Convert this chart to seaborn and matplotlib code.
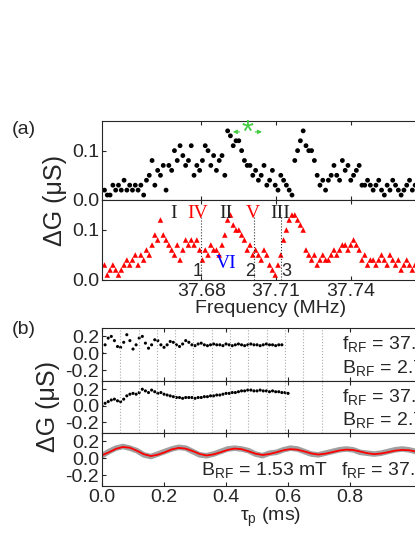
import numpy as np
import matplotlib
matplotlib.use("Agg")
import matplotlib.pyplot as plt
import seaborn as sns

# ---- panel (a): conductance spectra ----
freq_top = np.linspace(37.641, 37.775, 120)
dg_top = [
    0.02, 0.01, 0.01, 0.03, 0.02, 0.03, 0.02, 0.04, 0.02, 0.03,
    0.02, 0.03, 0.02, 0.03, 0.01, 0.04, 0.05, 0.08, 0.03, 0.06,
    0.05, 0.07, 0.02, 0.07, 0.06, 0.10, 0.08, 0.11, 0.09, 0.07,
    0.08, 0.11, 0.05, 0.07, 0.06, 0.08, 0.11, 0.10, 0.07, 0.09,
    0.06, 0.08, 0.09, 0.05, 0.14, 0.13, 0.11, 0.12, 0.12, 0.10,
    0.08, 0.07, 0.07, 0.05, 0.06, 0.04, 0.05, 0.07, 0.03, 0.04,
    0.06, 0.03, 0.02, 0.05, 0.04, 0.03, 0.02, 0.01, 0.08, 0.10,
    0.12, 0.14, 0.11, 0.10, 0.10, 0.08, 0.05, 0.03, 0.04, 0.02,
    0.04, 0.05, 0.07, 0.05, 0.04, 0.08, 0.06, 0.07, 0.04, 0.05,
    0.06, 0.07, 0.03, 0.03, 0.04, 0.03, 0.02, 0.03, 0.04, 0.02,
    0.01, 0.03, 0.02, 0.04, 0.03, 0.02, 0.01, 0.02, 0.03, 0.04,
    0.02, 0.03, 0.04, 0.01, 0.02, 0.03, 0.04, 0.02, 0.03, 0.04,
]
freq_bot = np.linspace(37.641, 37.775, 120)
dg_bot = [
    0.03, 0.01, 0.02, 0.03, 0.02, 0.01, 0.02, 0.03, 0.04, 0.03,
    0.04, 0.05, 0.03, 0.05, 0.04, 0.06, 0.05, 0.07, 0.09, 0.08,
    0.12, 0.09, 0.08, 0.07, 0.06, 0.05, 0.07, 0.04, 0.06, 0.08,
    0.07, 0.08, 0.07, 0.08, 0.06, 0.04, 0.06, 0.05, 0.07, 0.06,
    0.06, 0.05, 0.07, 0.09, 0.12, 0.13, 0.11, 0.10, 0.10, 0.09,
    0.08, 0.06, 0.07, 0.05, 0.06, 0.05, 0.04, 0.06, 0.05, 0.03,
    0.02, 0.01, 0.03, 0.05, 0.08, 0.10, 0.12, 0.13, 0.13, 0.12,
    0.11, 0.10, 0.06, 0.05, 0.04, 0.05, 0.03, 0.04, 0.05, 0.04,
    0.04, 0.05, 0.06, 0.05, 0.06, 0.07, 0.07, 0.06, 0.07, 0.08,
    0.07, 0.06, 0.04, 0.05, 0.03, 0.04, 0.04, 0.03, 0.04, 0.05,
    0.04, 0.03, 0.05, 0.04, 0.03, 0.04, 0.02, 0.03, 0.04, 0.03,
    0.02, 0.03, 0.04, 0.02, 0.03, 0.02, 0.01, 0.02, 0.03, 0.02,
]
roman_labels = ["I", "IV", "II", "V", "III", "VI"]
roman_x = [37.669, 37.6786, 37.690, 37.7008, 37.7116, 37.690]
roman_y = [0.133, 0.133, 0.133, 0.133, 0.133, 0.034]
roman_colors = ["#222222", "red", "#222222", "red", "#222222", "blue"]
line_labels = ["1", "2", "3"]
line_x = [37.680, 37.701, 37.712]

# ---- panel (b): time traces ----
tau_1 = np.arange(59) * 0.01
dg_1 = [
    0.0, 0.10, 0.18, 0.20, 0.15, 0.08, 0.07, 0.13, 0.22, 0.15,
    0.05, 0.10, 0.18, 0.20, 0.12, 0.06, 0.10, 0.16, 0.15, 0.10,
    0.07, 0.10, 0.14, 0.13, 0.10, 0.08, 0.11, 0.15, 0.13, 0.10,
    0.09, 0.11, 0.12, 0.10, 0.09, 0.10, 0.11, 0.10, 0.10, 0.09,
    0.11, 0.10, 0.09, 0.10, 0.11, 0.10, 0.09, 0.10, 0.11, 0.10,
    0.10, 0.09, 0.10, 0.11, 0.10, 0.10, 0.09, 0.10, 0.10,
]
tau_2 = np.arange(61) * 0.01
dg_2 = [
    0.0, 0.03, 0.05, 0.07, 0.08, 0.06, 0.05, 0.08, 0.12, 0.14,
    0.15, 0.14, 0.16, 0.20, 0.18, 0.16, 0.19, 0.17, 0.15, 0.16,
    0.14, 0.13, 0.12, 0.11, 0.10, 0.10, 0.09, 0.10, 0.10, 0.10,
    0.09, 0.10, 0.10, 0.11, 0.11, 0.12, 0.12, 0.13, 0.13, 0.14,
    0.15, 0.15, 0.16, 0.16, 0.17, 0.18, 0.18, 0.19, 0.19, 0.18,
    0.18, 0.19, 0.18, 0.18, 0.17, 0.18, 0.17, 0.17, 0.16, 0.16, 0.15,
]
tau_3 = np.arange(50) * 0.0225
fit_3 = [
    0.035, 0.071, 0.112, 0.134, 0.125, 0.089, 0.048, 0.026,
    0.042, 0.071, 0.105, 0.123, 0.114, 0.085, 0.051, 0.033,
    0.046, 0.071, 0.099, 0.115, 0.108, 0.083, 0.054, 0.039,
    0.050, 0.071, 0.095, 0.108, 0.102, 0.081, 0.057, 0.044,
    0.054, 0.072, 0.092, 0.102, 0.098, 0.080, 0.060, 0.049,
    0.056, 0.072, 0.090, 0.099, 0.095, 0.080, 0.062, 0.052,
    0.057, 0.072,
]
dg_3 = [
    0.030, 0.080, 0.120, 0.140, 0.120, 0.090, 0.040, 0.020,
    0.050, 0.080, 0.110, 0.130, 0.120, 0.080, 0.040, 0.030,
    0.050, 0.080, 0.110, 0.120, 0.110, 0.090, 0.050, 0.030,
    0.060, 0.070, 0.100, 0.120, 0.110, 0.080, 0.050, 0.040,
    0.060, 0.080, 0.100, 0.110, 0.100, 0.070, 0.060, 0.050,
    0.060, 0.080, 0.100, 0.110, 0.100, 0.080, 0.060, 0.050,
    0.060, 0.080,
]
grid_tau = [0.059 * k for k in range(1, 13)]

sns.set_style("ticks")
plt.rcParams["font.family"] = ["Liberation Sans", "DejaVu Sans"]
plt.rcParams["xtick.direction"] = "in"
plt.rcParams["ytick.direction"] = "in"
plt.rcParams["mathtext.fontset"] = "custom"
plt.rcParams["mathtext.rm"] = "Liberation Sans"

fig = plt.figure(figsize=(4.15, 5.37), dpi=100)
W, H = 415.0, 537.0


def add_ax(x0, y0, x1, y1):
    return fig.add_axes([x0 / W, 1 - y1 / H, (x1 - x0) / W, (y1 - y0) / H])


fs = 14
ax_a1 = add_ax(102, 121, 440, 200)
ax_a2 = add_ax(102, 200, 440, 280)
for ax in (ax_a1, ax_a2):
    ax.set_xlim(37.64, 37.776)
    ax.set_ylim(0, 0.16)
    ax.set_yticks([0.0, 0.1])
    ax.set_yticklabels(["0.0", "0.1"], fontsize=fs)
    ax.set_xticks([37.68, 37.71, 37.74])
    ax.tick_params(top=True, right=True, length=3, pad=2)
sns.scatterplot(x=freq_top, y=dg_top, ax=ax_a1, color="black", s=12, edgecolor="none")
sns.scatterplot(x=freq_bot, y=dg_bot, ax=ax_a2, color="red", marker="^", s=16, edgecolor="none")
ax_a1.set_xticklabels([])
ax_a2.set_xticklabels(["37.68", "37.71", "37.74"], fontsize=fs)
ax_a2.set_xlabel("Frequency (MHz)", fontsize=fs, labelpad=0)

# green marker with arrows
ax_a1.text(37.6985, 0.133, "*", color="#44cc44", fontsize=22, ha="center", va="center")
ax_a1.annotate("", xy=(37.6915, 0.138), xytext=(37.6965, 0.138),
               arrowprops=dict(arrowstyle="-|>", color="#44cc44", lw=0.8, mutation_scale=6))
ax_a1.annotate("", xy=(37.7055, 0.138), xytext=(37.7005, 0.138),
               arrowprops=dict(arrowstyle="-|>", color="#44cc44", lw=0.8, mutation_scale=6))

for lab, x, y, c in zip(roman_labels, roman_x, roman_y, roman_colors):
    ax_a2.text(x, y, lab, color=c, fontsize=14, ha="center", va="center",
               family=["Liberation Serif"])
for lab, x in zip(line_labels, line_x):
    ax_a2.plot([x, x], [0, 0.13], ls=":", color="#333333", lw=0.8)
    ax_a2.text(x - 0.0015 if lab != "3" else x + 0.002, 0.018, lab, fontsize=13, ha="center", va="center")

fig.text(12 / W, 1 - 130 / H, "(a)", fontsize=fs, va="center")
fig.text(55 / W, 1 - 200 / H, "ΔG (μS)", fontsize=18, rotation=90, ha="center", va="center")

# panel (b)
ax_b1 = add_ax(102, 328, 440, 381)
ax_b2 = add_ax(102, 381, 440, 433)
ax_b3 = add_ax(102, 433, 440, 486)
for ax in (ax_b1, ax_b2, ax_b3):
    ax.set_xlim(0, 1.09)
    ax.set_ylim(-0.33, 0.3)
    ax.set_yticks([-0.2, 0.0, 0.2])
    ax.set_yticklabels(["-0.2", "0.0", "0.2"], fontsize=fs)
    ax.set_xticks([0.0, 0.2, 0.4, 0.6, 0.8])
    ax.tick_params(top=True, right=True, length=3, pad=2)
for ax in (ax_b1, ax_b2):
    ax.set_xticklabels([])
    for g in grid_tau:
        ax.axvline(g, color="#aaaaaa", ls=":", lw=0.8)
sns.scatterplot(x=tau_1, y=dg_1, ax=ax_b1, color="black", s=5, edgecolor="none")
sns.scatterplot(x=tau_2, y=dg_2, ax=ax_b2, color="black", s=5, edgecolor="none")
sns.lineplot(x=tau_3, y=dg_3, ax=ax_b3, color="#888888", lw=4, alpha=0.8)
sns.lineplot(x=tau_3, y=fit_3, ax=ax_b3, color="red", lw=1.3)
ax_b3.set_xticklabels(["0.0", "0.2", "0.4", "0.6", "0.8"], fontsize=fs)
ax_b3.set_xlabel(r"τ$_\mathrm{p}$ (ms)", fontsize=fs, labelpad=0)

tfs = 14
ax_b1.text(0.775, 0.1, r"f$_\mathrm{RF}$ = 37.68 MHz", fontsize=tfs, va="center")
ax_b1.text(0.775, -0.18, r"B$_\mathrm{RF}$ = 2.73 mT", fontsize=tfs, va="center")
ax_b2.text(0.775, 0.1, r"f$_\mathrm{RF}$ = 37.71 MHz", fontsize=tfs, va="center")
ax_b2.text(0.775, -0.18, r"B$_\mathrm{RF}$ = 2.73 mT", fontsize=tfs, va="center")
ax_b3.text(0.32, -0.15, r"B$_\mathrm{RF}$ = 1.53 mT", fontsize=tfs, va="center")
ax_b3.text(0.77, -0.15, r"f$_\mathrm{RF}$ = 37.71 MHz", fontsize=tfs, va="center")

fig.text(12 / W, 1 - 330 / H, "(b)", fontsize=fs, va="center")
fig.text(48 / W, 1 - 407 / H, "ΔG (μS)", fontsize=18, rotation=90, ha="center", va="center")

fig.savefig("out.png", dpi=100)
